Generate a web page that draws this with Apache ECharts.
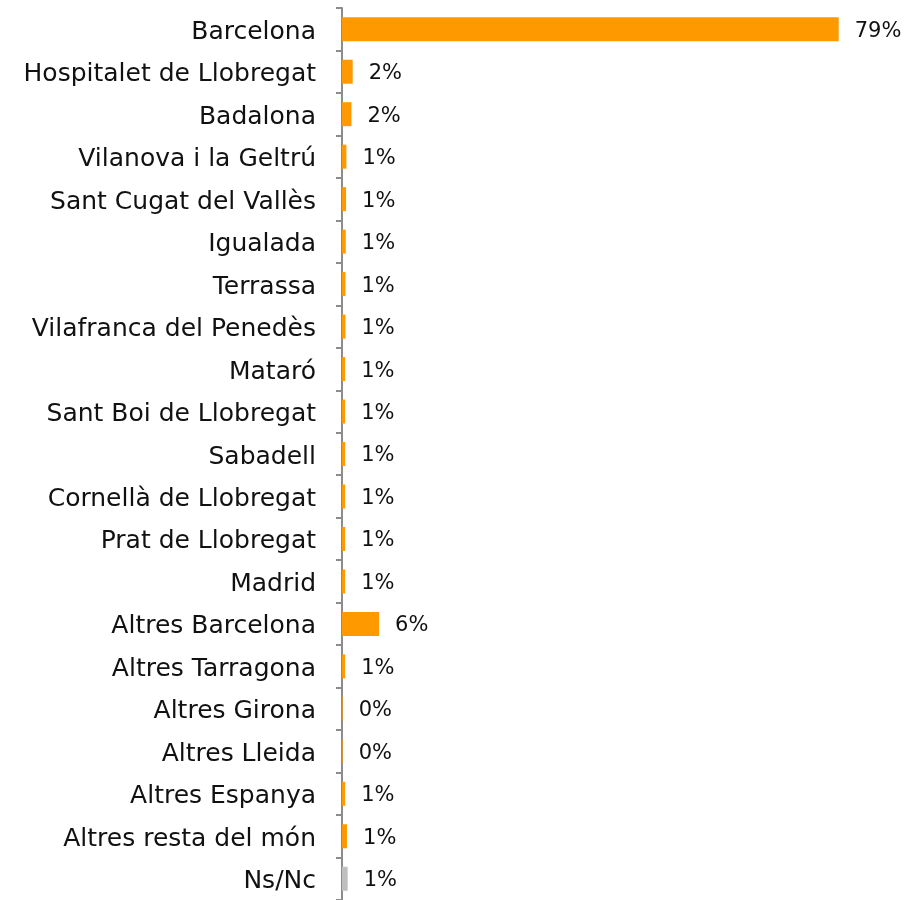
<!DOCTYPE html>
<html>
<head>
<meta charset="utf-8">
<script src="https://cdn.jsdelivr.net/npm/echarts@6/dist/echarts.min.js"></script>
<style>
  html, body { margin: 0; padding: 0; background: #fff; }
  #chart { width: 905px; height: 900px; }
</style>
</head>
<body>
<div id="chart"></div>
<script>
// categories top to bottom
var cities = [
  'Barcelona', 'Hospitalet de Llobregat', 'Badalona', 'Vilanova i la Geltrú',
  'Sant Cugat del Vallès', 'Igualada', 'Terrassa', 'Vilafranca del Penedès',
  'Mataró', 'Sant Boi de Llobregat', 'Sabadell', 'Cornellà de Llobregat',
  'Prat de Llobregat', 'Madrid', 'Altres Barcelona', 'Altres Tarragona',
  'Altres Girona', 'Altres Lleida', 'Altres Espanya', 'Altres resta del món', 'Ns/Nc'
];
// percentage of respondents
var shares = [
  79.0, 1.7, 1.5, 0.7,
  0.65, 0.6, 0.55, 0.55,
  0.5, 0.5, 0.5, 0.5,
  0.5, 0.5, 5.9, 0.5,
  0.1, 0.1, 0.5, 0.8, 0.9
];

var chart = echarts.init(document.getElementById('chart'));

var barData = shares.map(function (v, i) {
  return {
    value: v,
    itemStyle: { color: cities[i] === 'Ns/Nc' ? '#BFBFBF' : '#FF9900' }
  };
});

chart.setOption({
  animation: false,
  textStyle: { fontFamily: 'DejaVu Sans' },
  grid: { left: 342, right: 60, top: 8, height: 895, containLabel: false },
  xAxis: {
    type: 'value',
    min: 0,
    max: 80,
    show: false
  },
  yAxis: {
    type: 'category',
    inverse: true,
    data: cities,
    axisLine: { show: true, lineStyle: { color: '#8c8c8c', width: 2 } },
    axisTick: { show: true, length: 6, lineStyle: { color: '#8c8c8c', width: 2 } },
    axisLabel: {
      margin: 26,
      formatter: function (v) { return '{c|' + v + '}'; },
      rich: {
        c: { fontSize: 25, color: '#111', fontFamily: 'DejaVu Sans', padding: [6, 0, 0, 0] }
      }
    },
    splitLine: { show: false }
  },
  series: [{
    type: 'bar',
    data: barData,
    barWidth: 24,
    label: {
      show: true,
      position: 'right',
      distance: 16,
      offset: [0, 2],
      fontSize: 21,
      color: '#111',
      fontFamily: 'DejaVu Sans',
      formatter: function (p) { return Math.round(p.value) + '%'; }
    }
  }]
});
</script>
</body>
</html>
